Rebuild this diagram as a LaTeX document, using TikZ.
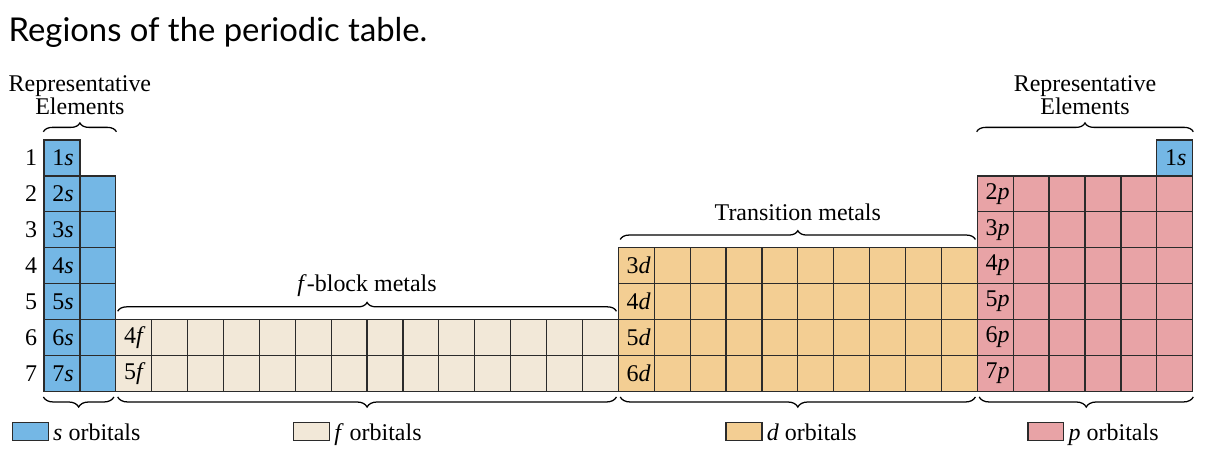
\documentclass[tikz,border=0pt]{standalone}
\usepackage{fontspec}
\setmainfont{Liberation Serif}
\newfontfamily\titlefont{Lato}
\usetikzlibrary{decorations.pathreplacing}
\definecolor{sblue}{HTML}{74B7E5}
\definecolor{fbeige}{HTML}{F2E8D8}
\definecolor{dorange}{HTML}{F3CE93}
\definecolor{ppink}{HTML}{E8A3A6}
\definecolor{edge}{HTML}{2B2B2B}

\begin{document}
\begin{tikzpicture}[x=0.5cm,y=0.5cm,
    every node/.style={font=\fontsize{9.5}{9.3}\selectfont},
    cell/.style={draw=edge,line width=0.5pt,minimum size=0.5cm,inner sep=0},
    tag/.style={anchor=west},
    brc/.style={decorate,decoration={brace,amplitude=3.5pt},line width=0.5pt},
    brcdown/.style={decorate,decoration={brace,mirror,amplitude=4pt},line width=0.5pt},
    key/.style={draw=edge,line width=0.5pt,minimum width=0.5cm,minimum height=0.25cm,inner sep=0},
    keytext/.style={anchor=base west,xshift=1.5pt,yshift=0.5pt,inner sep=0}]
        \useasboundingbox (-1.226,3.9) rectangle (33.04,-9.14);
        \node[anchor=base west,inner sep=0,font=\titlefont\fontsize{13}{15}\selectfont] (title) at (-1.0,2.73) {Regions of the periodic table.};
        % s block
        \foreach \r in {1,...,7}{
          \node[cell,fill=sblue] (sa\r) at (0.5,0.5-\r) {};
          \node[tag] (ls\r) at (sa\r.west) {\r\textit{s}};
          \node (n\r) at (-0.36,0.5-\r) {\r};
        }
        \foreach \r in {2,...,7}
          \node[cell,fill=sblue] (sb\r) at (1.5,0.5-\r) {};
        % f block
        \foreach \r/\n in {6/4,7/5}{
          \foreach \c in {1,...,14}
            \node[cell,fill=fbeige] (f\c-\r) at (1.5+\c,0.5-\r) {};
          \node[tag] (lf\r) at (f1-\r.west) {\n\textit{f}};
        }
        % d block
        \foreach \r/\n in {4/3,5/4,6/5,7/6}{
          \foreach \c in {1,...,10}
            \node[cell,fill=dorange] (d\c-\r) at (15.5+\c,0.5-\r) {};
          \node[tag] (ld\r) at (d1-\r.west) {\n\textit{d}};
        }
        % p block
        \foreach \r in {2,...,7}{
          \foreach \c in {1,...,6}
            \node[cell,fill=ppink] (p\c-\r) at (25.5+\c,0.5-\r) {};
          \node[tag] (lp\r) at (p1-\r.west) {\r\textit{p}};
        }
        \node[cell,fill=sblue] (h1) at (31.5,-0.5) {};
        \node[tag] (lh1) at (h1.west) {1\textit{s}};
        % braces above
        \coordinate (ra) at (sa1.north west -| sb2.east);
        \coordinate (rb) at (p1-2.west |- h1.north);
        \draw[brc] ([yshift=3pt]sa1.north west) -- ([yshift=3pt]ra);
        \draw[brc] ([yshift=3pt]rb) -- ([yshift=3pt]h1.north east);
        \draw[brc] ([xshift=1pt,yshift=3pt]f1-6.north west) -- ([xshift=-1pt,yshift=3pt]f14-6.north east);
        \draw[brc] ([xshift=1pt,yshift=3pt]d1-4.north west) -- ([xshift=-1pt,yshift=3pt]d10-4.north east);
        \node[anchor=base,align=center] (repl) at (1,0.70) {Representative\\Elements};
        \node[anchor=base,align=center] (repr) at (29,0.70) {Representative\\Elements};
        \node[anchor=base] (fname) at (9,-4.23) {\textit{f}-block metals};
        \node[anchor=base] (dname) at (21,-2.25) {Transition metals};
        % braces below
        \draw[brcdown] ([yshift=-2pt]sa7.south west) -- ([xshift=-1pt,yshift=-2pt]sb7.south east);
        \draw[brcdown] ([xshift=1pt,yshift=-2pt]f1-7.south west) -- ([xshift=-1pt,yshift=-2pt]f14-7.south east);
        \draw[brcdown] ([xshift=1pt,yshift=-2pt]d1-7.south west) -- ([xshift=-1pt,yshift=-2pt]d10-7.south east);
        \draw[brcdown] ([xshift=1pt,yshift=-2pt]p1-7.south west) -- ([yshift=-2pt]p6-7.south east);
        % legend
        \node[key,fill=sblue] (ks) at (-0.38,-8.13) {};
        \node[key,fill=fbeige] (kf) at (7.45,-8.13) {};
        \node[key,fill=dorange] (kd) at (19.5,-8.13) {};
        \node[key,fill=ppink] (kp) at (27.91,-8.13) {};
        \node[keytext] (ts) at (ks.south east) {\textit{s} orbitals};
        \node[keytext] (tf) at (kf.south east) {\textit{f} orbitals};
        \node[keytext] (td) at (kd.south east) {\textit{d} orbitals};
        \node[keytext] (tp) at (kp.south east) {\textit{p} orbitals};
      \end{tikzpicture}
\end{document}
